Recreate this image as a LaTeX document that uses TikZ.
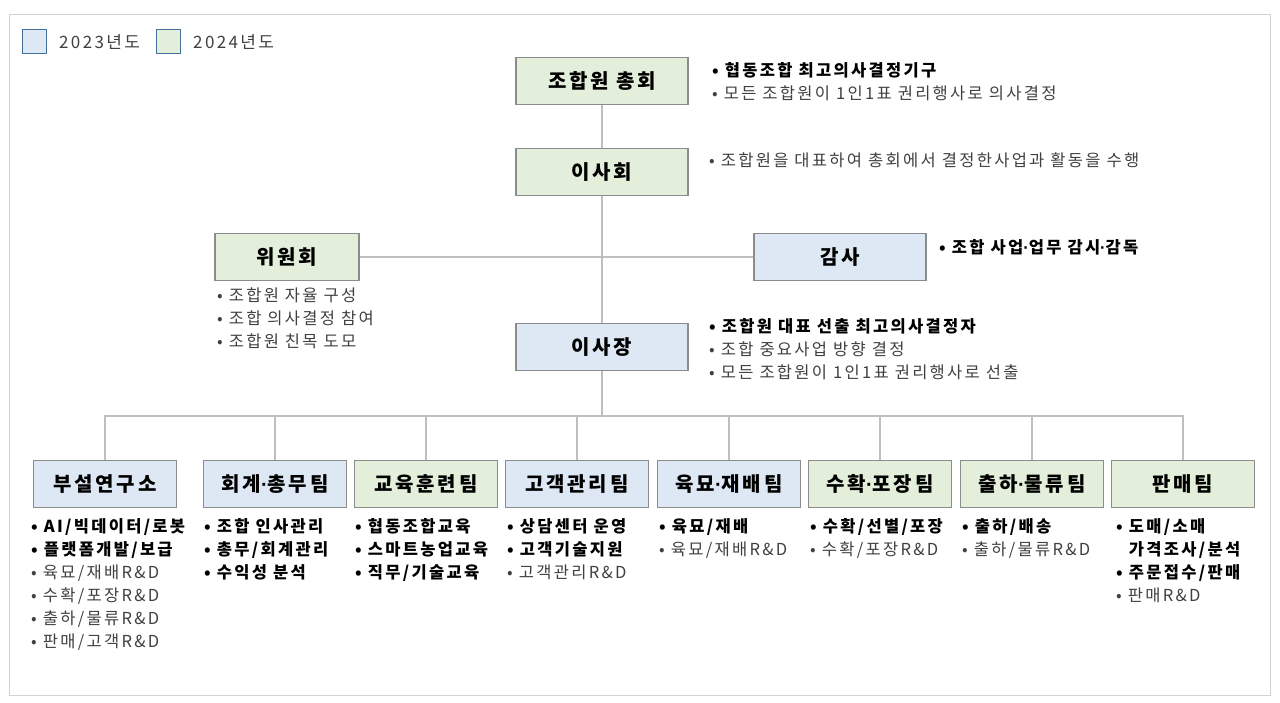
\documentclass[tikz,border=0pt]{standalone}
\usepackage{fontspec}
\setmainfont[LetterSpace=14]{Noto Sans CJK KR}
\newfontfamily\dotf{Liberation Sans}
\newcommand{\md}{{\dotf ·}}
\definecolor{bfill}{HTML}{DEE8F4}
\definecolor{gfill}{HTML}{E3EFDA}
\definecolor{bord}{HTML}{8C8C8C}
\definecolor{lgb}{HTML}{41719C}
\definecolor{ln}{HTML}{BFBFBF}
\definecolor{txg}{HTML}{404040}
\begin{document}
\begin{tikzpicture}[x=1pt,y=-1pt,
 box/.style={draw=bord,line width=1.2pt,minimum width=#1,minimum height=47pt,inner sep=0,font=\fontsize{20}{22}\selectfont\bfseries},
 box/.default=172pt,
 lst/.style={anchor=north west,inner sep=0,align=left,font=\fontsize{16.5}{23}\selectfont,text=txg},
 con/.style={draw=ln,line width=1.2pt}]
\useasboundingbox (0,0) rectangle (1280,703);
\draw[draw=ln!70,line width=1pt] (9,15) rectangle (1270,695);
% legend
\node[draw=lgb,fill=bfill,line width=1pt,minimum size=24pt,inner sep=0] (l1) at (34.5,41.5) {};
\node[anchor=west,inner sep=0,font=\fontsize{17}{18}\selectfont,text=txg] (l1t) at (59,41.5) {2023년도};
\node[draw=lgb,fill=gfill,line width=1pt,minimum size=24pt,inner sep=0] (l2) at (168.5,41.5) {};
\node[anchor=west,inner sep=0,font=\fontsize{17}{18}\selectfont,text=txg] (l2t) at (193,41.5) {2024년도};
\coordinate (bus) at (602,416);
\node[box,fill=gfill] (gm) at (602,81) {조합원 총회};
\node[box,fill=gfill] (bd) at (602,172) {이사회};
\node[box=144pt,fill=gfill] (cm) at (287,257) {위원회};
\node[box,fill=bfill] (au) at (840,257) {감사};
\node[box,fill=bfill] (ch) at (602,347) {이사장};
\foreach \n/\x/\t/\c in {b1/105/부설연구소/bfill,b2/275/회계\md 총무팀/bfill,b3/426/교육훈련팀/gfill,b4/577/고객관리팀/bfill,b5/729/육묘\md 재배팀/bfill,b6/880/수확\md 포장팀/gfill,b7/1032/출하\md 물류팀/gfill,b8/1183/판매팀/gfill}{
 \node[box=143pt,fill=\c] (\n) at (\x,484) {\t};
}
\draw[con] (gm) -- (bd);
\draw[con] (bd) -- (ch);
\draw[con] (cm) -- (au);
\draw[con] (ch) -- (bus);
\draw[con] (b1.north) |- (bus) -| (b8.north);
\foreach \n in {b2,b3,b4,b5,b6,b7}{\draw[con] (\n.north) -- (\n.north |- bus);}
\node[box,fill=gfill] at (602,172) {이사회};
\node[box=144pt,fill=gfill] at (287,257) {위원회};
\node[box,fill=bfill] at (840,257) {감사};
% lists
\node[lst] (t1) at (712,62) {\textbf{\color{black}• 협동조합 최고의사결정기구}\\• 모든 조합원이 1인1표 권리행사로 의사결정};
\node[lst] (t2) at (709,153) {• 조합원을 대표하여 총회에서 결정한사업과 활동을 수행};
\node[lst] (t3) at (939,239) {\textbf{\color{black}• 조합 사업\md 업무 감시\md 감독}};
\node[lst] (t4) at (217,288) {• 조합원 자율 구성\\• 조합 의사결정 참여\\• 조합원 친목 도모};
\node[lst] (t5) at (709,318) {\textbf{\color{black}• 조합원 대표 선출 최고의사결정자}\\• 조합 중요사업 방향 결정\\• 모든 조합원이 1인1표 권리행사로 선출};
\node[lst] (u1) at (31,518) {\textbf{\color{black}• AI/빅데이터/로봇}\\\textbf{\color{black}• 플랫폼개발/보급}\\• 육묘/재배R\&D\\• 수확/포장R\&D\\• 출하/물류R\&D\\• 판매/고객R\&D};
\node[lst] (u2) at (204,518) {\textbf{\color{black}• 조합 인사관리}\\\textbf{\color{black}• 총무/회계관리}\\\textbf{\color{black}• 수익성 분석}};
\node[lst] (u3) at (355,518) {\textbf{\color{black}• 협동조합교육}\\\textbf{\color{black}• 스마트농업교육}\\\textbf{\color{black}• 직무/기술교육}};
\node[lst] (u4) at (507,518) {\textbf{\color{black}• 상담센터 운영}\\\textbf{\color{black}• 고객기술지원}\\• 고객관리R\&D};
\node[lst] (u5) at (659,518) {\textbf{\color{black}• 육묘/재배}\\• 육묘/재배R\&D};
\node[lst] (u6) at (810,518) {\textbf{\color{black}• 수확/선별/포장}\\• 수확/포장R\&D};
\node[lst] (u7) at (962,518) {\textbf{\color{black}• 출하/배송}\\• 출하/물류R\&D};
\node[lst] (u8) at (1116,518) {\textbf{\color{black}• 도매/소매}\\\textbf{\color{black}\phantom{• }가격조사/분석}\\\textbf{\color{black}• 주문접수/판매}\\• 판매R\&D};
\end{tikzpicture}
\end{document}
